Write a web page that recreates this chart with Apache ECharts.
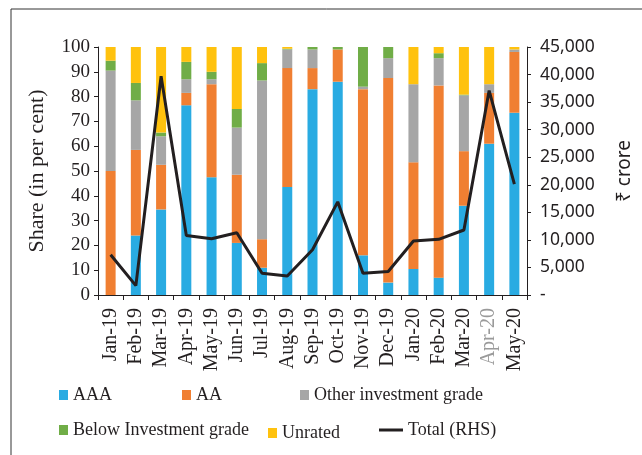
<!DOCTYPE html>
<html>
<head>
<meta charset="utf-8" />
<title>Share by rating</title>
<script src="https://cdn.jsdelivr.net/npm/echarts@6/dist/echarts.min.js"></script>
<style>
  html, body { margin: 0; padding: 0; background: #fff; }
  #chart { width: 642px; height: 455px; }
</style>
</head>
<body>
<div id="chart"></div>
<script>
// categories (months)
const months = ["Jan-19", "Feb-19", "Mar-19", "Apr-19", "May-19", "Jun-19", "Jul-19", "Aug-19", "Sep-19",
  "Oct-19", "Nov-19", "Dec-19", "Jan-20", "Feb-20", "Mar-20", "Apr-20", "May-20"];

// share in per cent
const aaa = [0, 24, 34.5, 76.5, 47.5, 21, 11, 43.5, 83, 86, 16, 5, 10.5, 7, 36, 61, 73.5];
const aa = [50, 34.5, 18, 5, 37.5, 27.5, 11.5, 48, 8.5, 13, 67, 82.5, 43, 77.5, 22, 20.5, 24.5];
const otherGrade = [40.5, 20, 11.5, 5.5, 2, 19, 64, 7.5, 7.5, 0, 1, 8, 31.5, 11, 22.5, 3.5, 1];
const belowGrade = [4, 7, 1.5, 7, 3, 7.5, 7, 0.3, 1, 1, 16, 4.5, 0, 2, 0.3, 0, 0];
const unrated = [5.5, 14.5, 34.5, 6, 10, 25, 6.5, 0.7, 0, 0, 0, 0, 15, 2.5, 19.2, 15, 1];

// total (RHS), Rs crore
const total = [7300, 1700, 39700, 10800, 10200, 11300, 3950, 3450, 8200, 16900, 3950, 4250, 9800, 10100, 11800, 37100, 20100];

// axis ticks
const shareTicks = { min: 0, max: 100, interval: 10 };
const croreTicks = { min: 0, max: 45000, interval: 5000 };

const serif = '"Liberation Serif", "DejaVu Serif", serif';
const sans = '"Noto Sans", "Liberation Sans", sans-serif';
const ink = "#231f20";

const chart = echarts.init(document.getElementById("chart"));

function barSeries(name, data, color) {
  return {
    name: name,
    type: "bar",
    stack: "share",
    barWidth: 10,
    data: data,
    itemStyle: { color: color },
  };
}

// one legend per item so each can sit where it does in the picture
function legendAt(name, left, top, extra) {
  return Object.assign({
    data: [name],
    left: left,
    top: top,
    itemWidth: 9,
    itemHeight: 10,
    itemGap: 4,
    icon: "rect",
    textStyle: { fontFamily: serif, fontSize: 18, color: ink },
  }, extra || {});
}

const option = {
  animation: false,
  backgroundColor: "#fff",
  grid: { left: 98, right: 112, top: 47, bottom: 160, containLabel: false },
  graphic: [
    // frame lines (left & top)
    { type: "line", shape: { x1: 11, y1: 9, x2: 642, y2: 9 }, style: { stroke: "#333", lineWidth: 1 } },
    { type: "line", shape: { x1: 11, y1: 9, x2: 11, y2: 455 }, style: { stroke: "#333", lineWidth: 1 } },
  ],
  legend: [
    legendAt("AAA", 54, 381),
    legendAt("AA", 177, 381),
    legendAt("Other investment grade", 295, 381, { itemGap: 15 }),
    legendAt("Below Investment grade", 54, 416),
    legendAt("Unrated", 263, 419, { itemGap: 5 }),
    legendAt("Total (RHS)", 374, 416, { itemWidth: 24, itemHeight: 3, itemGap: 3 }),
  ],
  xAxis: {
    type: "category",
    data: months.map((m) => (m === "Apr-20" ? { value: m, textStyle: { color: "#9a9a9a" } } : m)),
    axisLine: { lineStyle: { color: ink, width: 1 } },
    axisTick: { show: true, alignWithLabel: false, length: 5, lineStyle: { color: ink } },
    axisLabel: { rotate: 90, interval: 0, margin: 13, fontFamily: serif, fontSize: 20, color: ink },
  },
  yAxis: [
    {
      type: "value",
      min: shareTicks.min,
      max: shareTicks.max,
      interval: shareTicks.interval,
      name: "Share (in per cent)",
      nameLocation: "middle",
      nameRotate: 90,
      nameGap: 50,
      nameTextStyle: { fontFamily: serif, fontSize: 22, color: ink },
      axisLine: { show: true, lineStyle: { color: ink } },
      axisTick: { show: true, length: 4, lineStyle: { color: ink } },
      splitLine: { show: false },
      axisLabel: { fontFamily: serif, fontSize: 19, color: ink, margin: 8 },
    },
    {
      type: "value",
      position: "right",
      min: croreTicks.min,
      max: croreTicks.max,
      interval: croreTicks.interval,
      name: "₹ crore",
      nameLocation: "middle",
      nameRotate: 90,
      nameGap: 88,
      nameTextStyle: { fontFamily: sans, fontSize: 19, color: ink },
      axisLine: { show: true, lineStyle: { color: ink } },
      axisTick: { show: true, length: 4, lineStyle: { color: ink } },
      splitLine: { show: false },
      axisLabel: {
        fontFamily: sans,
        fontSize: 17.5,
        color: ink,
        margin: 13,
        formatter: (v) => (v === 0 ? "-" : v.toLocaleString("en-US")),
      },
    },
  ],
  series: [
    barSeries("AAA", aaa, "#29abe2"),
    barSeries("AA", aa, "#f07f32"),
    barSeries("Other investment grade", otherGrade, "#a6a6a6"),
    barSeries("Below Investment grade", belowGrade, "#70ad47"),
    barSeries("Unrated", unrated, "#ffc20e"),
    {
      name: "Total (RHS)",
      type: "line",
      yAxisIndex: 1,
      data: total,
      symbol: "none",
      lineStyle: { color: ink, width: 3 },
      itemStyle: { color: ink },
    },
  ],
};

chart.setOption(option);
</script>
</body>
</html>
